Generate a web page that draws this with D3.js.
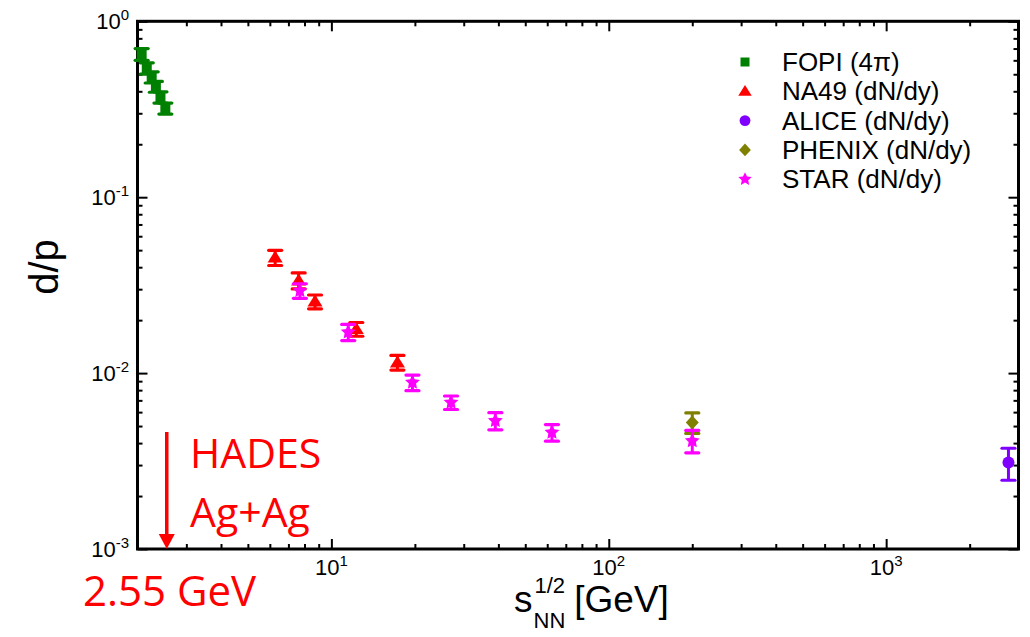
<!DOCTYPE html>
<html><head><meta charset="utf-8">
<script src="https://cdn.jsdelivr.net/npm/d3@7"></script>
<style>
html,body{margin:0;padding:0;background:#fff;}
svg{display:block;font-family:"Liberation Sans",Arial,sans-serif;}
</style></head><body>
<svg id="chart" width="1030" height="637"></svg>
<script>
// Deuteron-to-proton ratio versus collision energy
const fopiEnergy = [2.07, 2.16, 2.25, 2.33, 2.42, 2.52];
const fopiRatio  = [0.65, 0.541, 0.481, 0.425, 0.370, 0.320];
const fopiError  = [0.05, 0.04, 0.035, 0.03, 0.027, 0.023];

const na49Energy = [6.27, 7.62, 8.73, 12.3, 17.3];
const na49Ratio  = [0.0454, 0.0336, 0.0255, 0.0178, 0.0115];
const na49Error  = [0.0045, 0.0035, 0.0023, 0.0016, 0.0011];

const aliceEnergy = [2760];
const aliceRatio  = [0.0031];
const aliceError  = [0.00064];

const phenixEnergy = [200];
const phenixRatio  = [0.00524];
const phenixError  = [0.0007];

const starEnergy = [7.7, 11.5, 19.6, 27, 39, 62.4, 200];
const starRatio  = [0.0294, 0.0171, 0.00885, 0.00681, 0.00536, 0.0046, 0.00412];
const starError  = [0.0028, 0.0018, 0.0009, 0.0006, 0.0006, 0.0005, 0.0006];

const xMajorTicks = [10, 100, 1000];
const xTickExponents = ["1", "2", "3"];
const yMajorTicks = [1, 0.1, 0.01, 0.001];
const yTickExponents = ["0", "-1", "-2", "-3"];

const seriesNames  = ["FOPI (4\u03c0)", "NA49 (dN/dy)", "ALICE (dN/dy)", "PHENIX (dN/dy)", "STAR (dN/dy)"];
const seriesColors = ["#008000", "#ff0000", "#8000ff", "#808000", "#ff00ff"];
const seriesShapes = ["square", "triangle", "circle", "diamond", "star"];

const hadesEnergy = 2.55;
const hadesLines = ["HADES", "Ag+Ag"];
const hadesEnergyLabel = "2.55 GeV";

// ---------------------------------------------------------------
const svg = d3.select("#chart");
const plot = {left: 137.5, right: 1018.5, top: 21.3, bottom: 549};

const x = d3.scaleLog().domain([2, 3000]).range([plot.left, plot.right]);
const y = d3.scaleLog().domain([0.001, 1]).range([plot.bottom, plot.top]);

const series = [
  {xs: fopiEnergy,   ys: fopiRatio,   es: fopiError},
  {xs: na49Energy,   ys: na49Ratio,   es: na49Error},
  {xs: aliceEnergy,  ys: aliceRatio,  es: aliceError},
  {xs: phenixEnergy, ys: phenixRatio, es: phenixError},
  {xs: starEnergy,   ys: starRatio,   es: starError}
].map((s, i) => ({
  name: seriesNames[i], color: seriesColors[i], shape: seriesShapes[i],
  points: s.xs.map((e, j) => ({x: e, y: s.ys[j], err: s.es[j]}))
}));

// marker outlines
function markerPath(shape, k) {
  k = k || 1;
  if (shape === "square") { const h = 5 * k; return `M${-h},${-h}H${h}V${h}H${-h}Z`; }
  if (shape === "triangle") { const w = 7.5 * k, t = 7 * k, b = 5 * k; return `M0,${-t}L${w},${b}L${-w},${b}Z`; }
  if (shape === "circle") { const r = 6 * k; return `M${r},0A${r},${r},0,1,1,${-r},0A${r},${r},0,1,1,${r},0Z`; }
  if (shape === "diamond") { const w = 6.5 * k, h = 7 * k; return `M0,${-h}L${w},0L0,${h}L${-w},0Z`; }
  // five-pointed star
  const R = 7.8 * k, r = 3.8 * k;
  let d = "";
  for (let i = 0; i < 10; i++) {
    const a = -Math.PI / 2 + i * Math.PI / 5;
    const rr = i % 2 === 0 ? R : r;
    d += (i === 0 ? "M" : "L") + (rr * Math.cos(a)).toFixed(2) + "," + (rr * Math.sin(a)).toFixed(2);
  }
  return d + "Z";
}

// ---------------- axes frame & ticks ----------------
const axesG = svg.append("g");

function minorLog(lo, hi) {
  const out = [];
  for (let p = Math.floor(Math.log10(lo)); p <= Math.ceil(Math.log10(hi)); p++) {
    for (let m = 2; m <= 9; m++) {
      const v = m * Math.pow(10, p);
      if (v >= lo * 0.999 && v <= hi * 1.001) out.push(v);
    }
  }
  return out;
}
const xMinor = minorLog(2, 3000);
const yMinor = minorLog(0.001, 1);

function tickGroup(axisFn, scale, values, len, transform) {
  const g = axesG.append("g").attr("transform", transform)
    .call(axisFn(scale).tickValues(values).tickSize(-len).tickFormat(""));
  g.select(".domain").remove();
  g.selectAll(".tick line").attr("stroke", "#000").attr("stroke-width", 2);
  return g;
}
const majorLen = 10, minorLen = 5;
tickGroup(d3.axisBottom, x, xMajorTicks, majorLen, `translate(0,${plot.bottom})`);
tickGroup(d3.axisBottom, x, xMinor, minorLen, `translate(0,${plot.bottom})`);
tickGroup(d3.axisTop, x, xMajorTicks, majorLen, `translate(0,${plot.top})`);
tickGroup(d3.axisTop, x, xMinor, minorLen, `translate(0,${plot.top})`);
tickGroup(d3.axisLeft, y, yMajorTicks, majorLen, `translate(${plot.left},0)`);
tickGroup(d3.axisLeft, y, yMinor, minorLen, `translate(${plot.left},0)`);
tickGroup(d3.axisRight, y, yMajorTicks, majorLen, `translate(${plot.right},0)`);
tickGroup(d3.axisRight, y, yMinor, minorLen, `translate(${plot.right},0)`);

axesG.append("rect")
  .attr("x", plot.left).attr("y", plot.top)
  .attr("width", plot.right - plot.left).attr("height", plot.bottom - plot.top)
  .attr("fill", "none").attr("stroke", "#000").attr("stroke-width", 3);

// tick labels: powers of ten
const tickFont = 22, supFont = 15;
xMajorTicks.forEach((v, i) => {
  const t = svg.append("text")
    .attr("x", x(v)).attr("y", plot.bottom + 26)
    .attr("text-anchor", "middle").attr("font-size", tickFont).attr("fill", "#000");
  t.append("tspan").text("10");
  t.append("tspan").attr("dy", -9).attr("font-size", supFont).text(xTickExponents[i]);
});
yMajorTicks.forEach((v, i) => {
  const t = svg.append("text")
    .attr("x", 129).attr("y", y(v) + 8)
    .attr("text-anchor", "end").attr("font-size", tickFont).attr("fill", "#000");
  t.append("tspan").text("10");
  t.append("tspan").attr("dy", -9).attr("font-size", supFont).text(yTickExponents[i]);
});

// axis titles
svg.append("text")
  .attr("transform", "translate(58,267) rotate(-90)")
  .attr("text-anchor", "middle").attr("font-size", 40).attr("fill", "#000")
  .text("d/p");

const xt = svg.append("g");
const sBase = 612, sX = 514;
const sText = xt.append("text").attr("x", sX).attr("y", sBase).attr("font-size", 37).text("s");
const sW = sText.node().getComputedTextLength();
const subT = xt.append("text").attr("x", sX + sW + 1).attr("y", sBase + 16).attr("font-size", 22).text("NN");
const supT = xt.append("text").attr("x", sX + sW + 2).attr("y", sBase - 19).attr("font-size", 22).text("1/2");
const scriptW = Math.max(subT.node().getComputedTextLength(), supT.node().getComputedTextLength());
xt.append("text").attr("x", sX + sW + scriptW + 10).attr("y", sBase).attr("font-size", 37).text("[GeV]");

// ---------------- data ----------------
const dataG = svg.append("g");
const capW = 13;
series.forEach(s => {
  const g = dataG.append("g").attr("fill", s.color).attr("stroke", s.color);
  const pts = g.selectAll("g.pt").data(s.points).join("g").attr("class", "pt");
  pts.append("line")
    .attr("x1", d => x(d.x)).attr("x2", d => x(d.x))
    .attr("y1", d => y(d.y - d.err)).attr("y2", d => y(d.y + d.err))
    .attr("stroke-width", 3);
  pts.append("line")
    .attr("x1", d => x(d.x) - capW / 2).attr("x2", d => x(d.x) + capW / 2)
    .attr("y1", d => y(d.y + d.err)).attr("y2", d => y(d.y + d.err))
    .attr("stroke-width", 3.2).attr("stroke-linecap", "round");
  pts.append("line")
    .attr("x1", d => x(d.x) - capW / 2).attr("x2", d => x(d.x) + capW / 2)
    .attr("y1", d => y(d.y - d.err)).attr("y2", d => y(d.y - d.err))
    .attr("stroke-width", 3.2).attr("stroke-linecap", "round");
  pts.append("path")
    .attr("d", markerPath(s.shape))
    .attr("transform", d => `translate(${x(d.x)},${y(d.y)})`)
    .attr("stroke", "none");
});

// ---------------- legend ----------------
const legend = svg.append("g");
const legX = 745, legTextX = 782, legY0 = 62, legDy = 29.3;
series.forEach((s, i) => {
  const cy = legY0 + i * legDy;
  legend.append("path").attr("d", markerPath(s.shape, 0.9))
    .attr("transform", `translate(${legX},${cy})`).attr("fill", s.color);
  legend.append("text").attr("x", legTextX).attr("y", cy + 9)
    .attr("font-size", 26).attr("fill", "#000").text(s.name);
});

// ---------------- HADES annotation ----------------
const hx = x(hadesEnergy);
const red = "#ff0000";
svg.append("line")
  .attr("x1", hx).attr("x2", hx).attr("y1", 432).attr("y2", plot.bottom - 13)
  .attr("stroke", red).attr("stroke-width", 3.5);
svg.append("path")
  .attr("d", `M${hx - 8},${plot.bottom - 15}L${hx + 8},${plot.bottom - 15}L${hx},${plot.bottom}Z`)
  .attr("fill", red);
const hadesFont = "'Open Sans', sans-serif";
hadesLines.forEach((t, i) => {
  svg.append("text").attr("x", 190).attr("y", 468 + i * 59)
    .attr("font-family", hadesFont).attr("font-size", 41).attr("fill", red).text(t);
});
svg.append("text").attr("x", 83).attr("y", 606)
  .attr("font-family", hadesFont).attr("font-size", 42).attr("fill", red).text(hadesEnergyLabel);
</script>
</body></html>
